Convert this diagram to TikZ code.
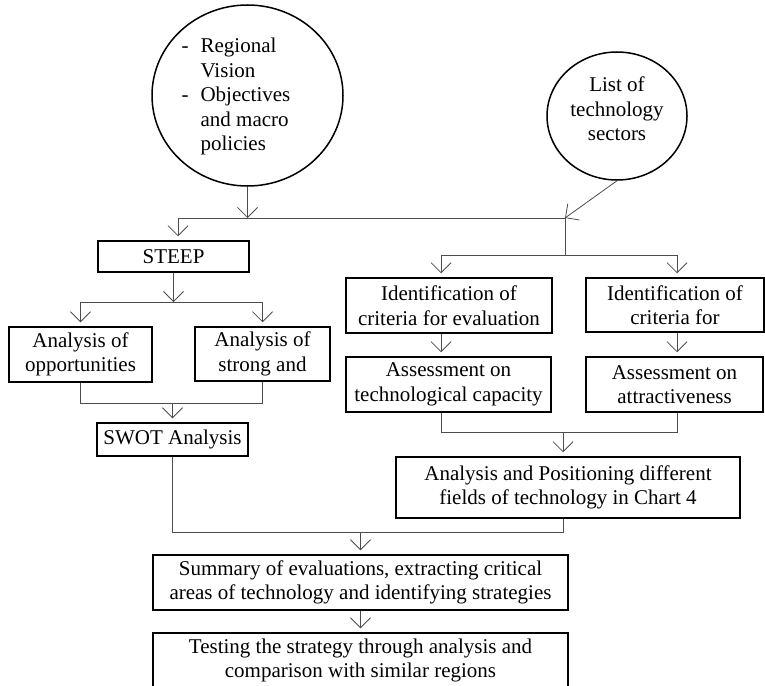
\documentclass[tikz,border=0pt]{standalone}
\usepackage{fontspec}
\setmainfont{Liberation Serif}
\usetikzlibrary{arrows.meta,shapes.geometric}

\newcommand{\boxfont}{\fontsize{21}{24.5}\selectfont}

\tikzset{
    box/.style={draw, line width=1.5pt, inner sep=0pt, align=center, font=\boxfont},
    bubble/.style={draw, ellipse, line width=1.5pt, inner sep=0pt},
    txt/.style={inner sep=0pt, align=center, font=\boxfont},
    link/.style={draw=black!70, line width=0.8pt},
    arr/.style={link, -{Straight Barb[length=10pt,width=20pt]}},
    feed/.style={arr, shorten >=4pt},
}

\begin{document}
\begin{tikzpicture}[x=1pt, y=-1pt]
    \useasboundingbox (0,0) rectangle (765,685);

    % inputs
    \node[bubble, minimum width=191pt, minimum height=181pt] (vision) at (247.5,95.5) {};
    \node[txt] (visionTxt) at (236,97) {\begin{tabular}{@{}l@{\hspace{12pt}}l@{}}
        - & Regional\\ & Vision\\ - & Objectives\\ & and macro\\ & policies\end{tabular}};
    \node[bubble, minimum width=140pt, minimum height=128pt] (sectors) at (617,116) {};
    \node[txt] (sectorsTxt) at (617,109) {List of\\technology\\sectors};

    % left branch
    \node[box, minimum width=151pt, minimum height=31pt] (steep) at (173.5,256.5) {STEEP};
    \node[box, minimum width=143pt, minimum height=55pt] (opp) at (80.5,354.5) {Analysis of\\opportunities};
    \node[box, minimum width=135pt, minimum height=54pt] (strong) at (262.5,354) {Analysis of\\strong and};
    \node[box, minimum width=151pt, minimum height=33pt] (swot) at (172.5,439.5) {SWOT Analysis};

    % right branch
    \node[box, minimum width=206pt, minimum height=55pt] (idEval) at (449,305.5) {Identification of\\criteria for evaluation};
    \node[box, minimum width=178pt, minimum height=54pt] (idAttr) at (675,305) {Identification of\\criteria for};
    \node[box, minimum width=205pt, minimum height=55pt] (asCap) at (448.5,384.5) {Assessment on\\technological capacity};
    \node[box, minimum width=177pt, minimum height=55pt] (asAttr) at (674.5,384.5) {Assessment on\\attractiveness};
    \node[box, minimum width=344pt, minimum height=61pt] (pos) at (568,487.5) {Analysis and Positioning different\\fields of technology in Chart 4};

    % results
    \node[box, minimum width=415pt, minimum height=55pt] (summary) at (360.5,582.5) {Summary of evaluations, extracting critical\\areas of technology and identifying strategies};
    \node[box, minimum width=415pt, minimum height=55pt] (testing) at (360.5,660.5) {Testing the strategy through analysis and\\comparison with similar regions};

    % junctions
    \coordinate (topL) at (178,218);
    \coordinate (topR) at (565,218);
    \coordinate (forkL) at (173.5,302);
    \coordinate (joinL) at (172.5,403);
    \coordinate (forkR) at (565,255);
    \coordinate (colL) at (441,0);
    \coordinate (colR) at (677,0);
    \coordinate (joinR) at (563,432);
    \coordinate (joinB) at (563,532);

    \draw[arr] (vision.south) -- (vision.south |- topL);
    \draw[arr] (sectors.south) -- (topR);
    \draw[link] (topL) -- (topR) -- (forkR);
    \draw[feed] (topL) -- (topL |- steep.north);

    \draw[arr] (steep.south) -- (forkL);
    \draw[link] (opp.north |- forkL) -- (strong.north |- forkL);
    \draw[feed] (opp.north |- forkL) -- (opp.north);
    \draw[feed] (strong.north |- forkL) -- (strong.north);
    \draw[link] (opp.south) -- (opp.south |- joinL) -- (strong.south |- joinL) -- (strong.south);
    \draw[feed] (joinL) -- (joinL |- swot.north);

    \draw[link] (forkR -| colL) -- (forkR -| colR);
    \draw[feed] (forkR -| colL) -- (idEval.north -| colL);
    \draw[feed] (forkR -| colR) -- (idAttr.north -| colR);
    \draw[feed] (idEval.south -| colL) -- (asCap.north -| colL);
    \draw[feed] (idAttr.south -| colR) -- (asAttr.north -| colR);
    \draw[link] (asCap.south -| colL) -- (joinR -| colL) -- (joinR -| colR) -- (asAttr.south -| colR);
    \draw[feed] (joinR) -- (joinR |- pos.north);

    \draw[link] (swot.south) -- (swot.south |- joinB) -- (joinB) -- (joinB |- pos.south);
    \draw[feed] (summary.north |- joinB) -- (summary.north);
    \draw[feed] (summary.south) -- (testing.north);
\end{tikzpicture}
\end{document}
